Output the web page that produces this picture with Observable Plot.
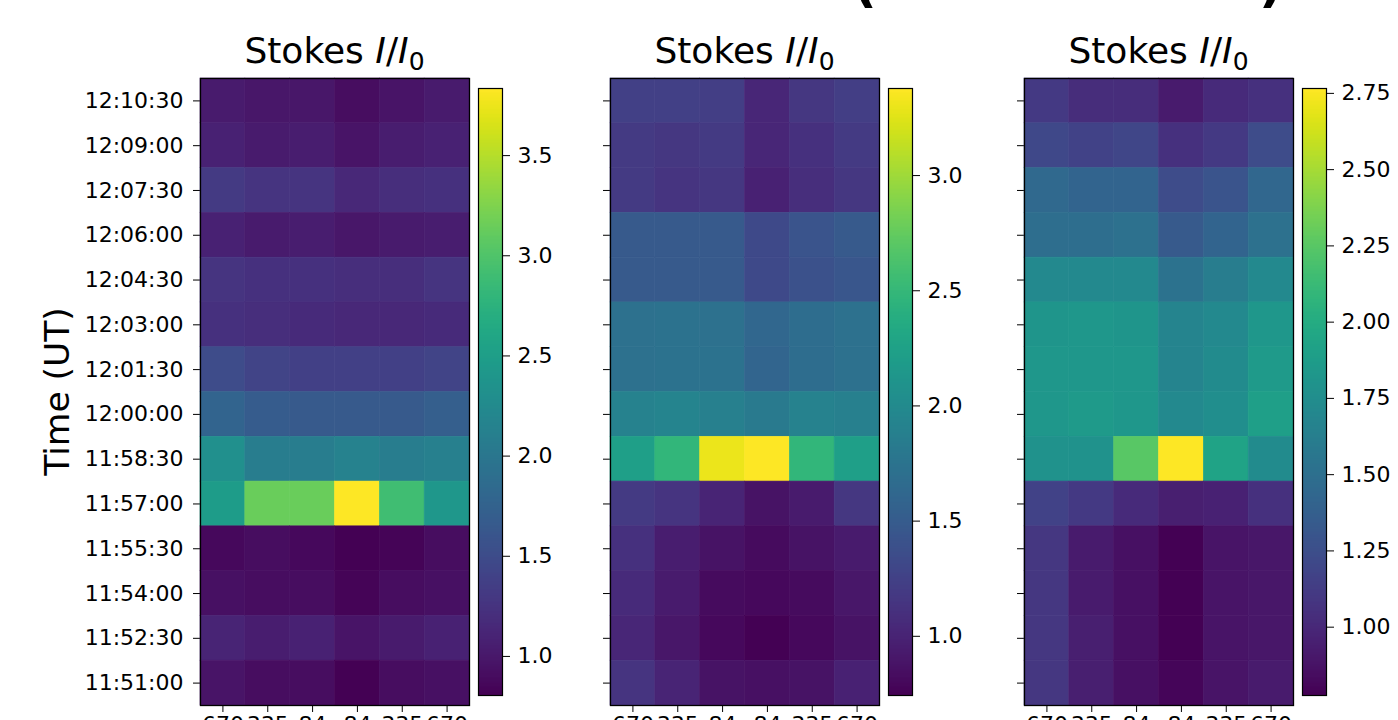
<!DOCTYPE html>
<html><head><meta charset="utf-8">
<script src="https://cdn.jsdelivr.net/npm/d3@7"></script>
<script src="https://cdn.jsdelivr.net/npm/@observablehq/plot@0.6"></script>
<style>
body{margin:0;background:#fff;}
#chart{position:relative;width:1398px;height:720px;overflow:hidden;font-family:"DejaVu Sans";}
#chart > svg{position:absolute;top:0;}
</style></head><body><div id="chart"></div>
<script>
// Time rows, top to bottom
const times = ["12:10:30","12:09:00","12:07:30","12:06:00","12:04:30","12:03:00","12:01:30",
               "12:00:00","11:58:30","11:57:00","11:55:30","11:54:00","11:52:30","11:51:00"];
// Column tick labels (left to right)
const channelLabels = ["670","335","84","84","335","670"];

// Stokes I/I0, panel 1 (rows = times, columns = channels)
const panel1 = [
  [1.02,0.99,0.99,0.90,0.96,1.02],
  [1.08,1.02,1.05,0.96,1.05,1.08],
  [1.32,1.26,1.26,1.14,1.20,1.23],
  [1.08,1.02,1.05,0.99,1.02,1.05],
  [1.26,1.23,1.23,1.20,1.20,1.26],
  [1.23,1.20,1.17,1.14,1.14,1.17],
  [1.50,1.41,1.38,1.38,1.38,1.41],
  [1.77,1.68,1.65,1.65,1.65,1.71],
  [2.32,2.08,2.08,2.14,2.08,2.11],
  [2.47,3.14,3.14,3.835,2.90,2.41],
  [0.87,0.90,0.87,0.805,0.84,0.90],
  [0.93,0.90,0.90,0.84,0.90,0.93],
  [1.11,1.05,1.08,0.96,1.02,1.08],
  [0.96,0.90,0.90,0.81,0.90,0.93]
];
const panel2 = [
  [1.24,1.24,1.22,1.03,1.16,1.22],
  [1.19,1.16,1.19,1.03,1.11,1.19],
  [1.19,1.14,1.16,0.98,1.09,1.16],
  [1.48,1.48,1.48,1.32,1.43,1.48],
  [1.48,1.48,1.48,1.32,1.40,1.45],
  [1.72,1.74,1.72,1.61,1.67,1.72],
  [1.72,1.74,1.74,1.59,1.67,1.72],
  [1.90,1.93,1.88,1.82,1.90,1.88],
  [2.22,2.48,3.30,3.378,2.48,2.22],
  [1.19,1.14,1.01,0.87,0.93,1.16],
  [1.11,0.95,0.87,0.82,0.87,0.93],
  [1.06,0.93,0.82,0.80,0.82,0.90],
  [1.03,0.90,0.80,0.743,0.80,0.87],
  [1.14,1.01,0.87,0.85,0.87,0.98]
];
const panel3 = [
  [1.11,1.03,1.03,0.92,1.01,1.05],
  [1.21,1.17,1.19,1.05,1.11,1.23],
  [1.45,1.41,1.41,1.23,1.29,1.43],
  [1.49,1.49,1.51,1.33,1.41,1.51],
  [1.71,1.71,1.71,1.53,1.61,1.71],
  [1.81,1.83,1.81,1.67,1.71,1.83],
  [1.83,1.83,1.83,1.67,1.73,1.85],
  [1.83,1.85,1.83,1.71,1.75,1.89],
  [1.79,1.79,2.25,2.766,1.93,1.73],
  [1.17,1.11,1.01,0.94,0.96,1.05],
  [1.09,0.92,0.86,0.776,0.88,0.90],
  [1.09,0.92,0.86,0.78,0.88,0.90],
  [1.09,0.94,0.86,0.78,0.88,0.90],
  [1.09,0.94,0.86,0.80,0.88,0.92]
];
// Colorbar tick values
const cbTicks1 = [1.0,1.5,2.0,2.5,3.0,3.5];
const cbTicks2 = [1.0,1.5,2.0,2.5,3.0];
const cbTicks3 = [1.00,1.25,1.50,1.75,2.00,2.25,2.50,2.75];

const chart = document.getElementById("chart");
const baseStyle = {fontFamily:"DejaVu Sans", fontSize:"22px", color:"black", background:"transparent", overflow:"visible"};
const TOP = 78, BOTTOM = 705, HM_W = 269;

function place(el, left) { el.style.left = left + "px"; chart.appendChild(el); }

function toRows(values) {
  return values.flatMap((row, i) => row.map((v, j) => ({time: times[i], ch: j, v})));
}

function heatmap(values, left, marginLeft, showY) {
  const data = toRows(values);
  const ext = d3.extent(data, d => d.v);
  const width = marginLeft + HM_W + 11;
  const p = Plot.plot({
    width, height: 720,
    marginLeft, marginRight: 11, marginTop: TOP, marginBottom: 720 - BOTTOM,
    style: baseStyle,
    x: {type: "band", domain: channelLabels.map((_, j) => j), padding: 0, round: false, tickSize: 7, tickPadding: 4,
        tickFormat: j => channelLabels[j], label: null},
    y: {type: "band", domain: times, padding: 0, round: false, tickSize: 7, tickPadding: 10,
        tickFormat: showY ? (d => d) : (() => ""), label: null},
    color: {type: "linear", scheme: "viridis", domain: ext},
    marks: [
      Plot.cell(data, {x: "ch", y: "time", fill: "v", stroke: "v", strokeWidth: 0.6, inset: 0}),
      Plot.frame({stroke: "black", strokeWidth: 1.3})
    ]
  });
  place(p, left);
  return ext;
}

function colorbar(ext, ticks, fmt, left, width) {
  const p = Plot.plot({
    width, height: 720,
    marginLeft: 18, marginRight: width - 18 - 24, marginTop: 88, marginBottom: 720 - 695,
    style: baseStyle,
    x: {domain: [0, 1], axis: null},
    y: {domain: ext, ticks, tickFormat: fmt, axis: "right", tickSize: 7, tickPadding: 8, label: null},
    color: {type: "linear", scheme: "viridis", domain: ext},
    marks: [
      Plot.raster({x1: 0, x2: 1, y1: ext[0], y2: ext[1], width: 1, height: 400, fill: (x, y) => y}),
      Plot.frame({stroke: "black", strokeWidth: 1.2})
    ]
  });
  place(p, left);
}

const e1 = heatmap(panel1, 0, 200, true);
colorbar(e1, cbTicks1, d3.format(".1f"), 460, 100);
const e2 = heatmap(panel2, 560, 50, false);
colorbar(e2, cbTicks2, d3.format(".1f"), 870, 100);
const e3 = heatmap(panel3, 970, 54, false);
colorbar(e3, cbTicks3, d3.format(".2f"), 1284, 114);

// Overlay texts: titles, y label, cut-off figure title
const svg = d3.select(chart).append("svg")
  .attr("width", 1398).attr("height", 720)
  .style("position", "absolute").style("left", "0px").style("top", "0px")
  .style("font-family", "DejaVu Sans").style("pointer-events", "none");

const centers = [200 + HM_W / 2, 610 + HM_W / 2, 1024 + HM_W / 2];
centers.forEach(cx => {
  const t = svg.append("text").attr("x", cx).attr("y", 63).attr("text-anchor", "middle")
    .attr("font-size", 36).attr("fill", "black");
  t.append("tspan").text("Stokes ");
  t.append("tspan").attr("font-style", "italic").text("I");
  t.append("tspan").text("/");
  t.append("tspan").attr("font-style", "italic").text("I");
  t.append("tspan").attr("font-size", 25).attr("dy", 7).text("0");
});

svg.append("text").attr("transform", `translate(69,${(TOP + BOTTOM) / 2}) rotate(-90)`)
  .attr("text-anchor", "middle").attr("font-size", 34.5).attr("fill", "black").text("Time (UT)");

svg.append("text").attr("x", 853).attr("y", 1).attr("font-size", 52).attr("font-weight", "bold").text("(");
svg.append("text").attr("x", 1259).attr("y", 1).attr("font-size", 52).attr("font-weight", "bold").text(")");
</script>
</body></html>
